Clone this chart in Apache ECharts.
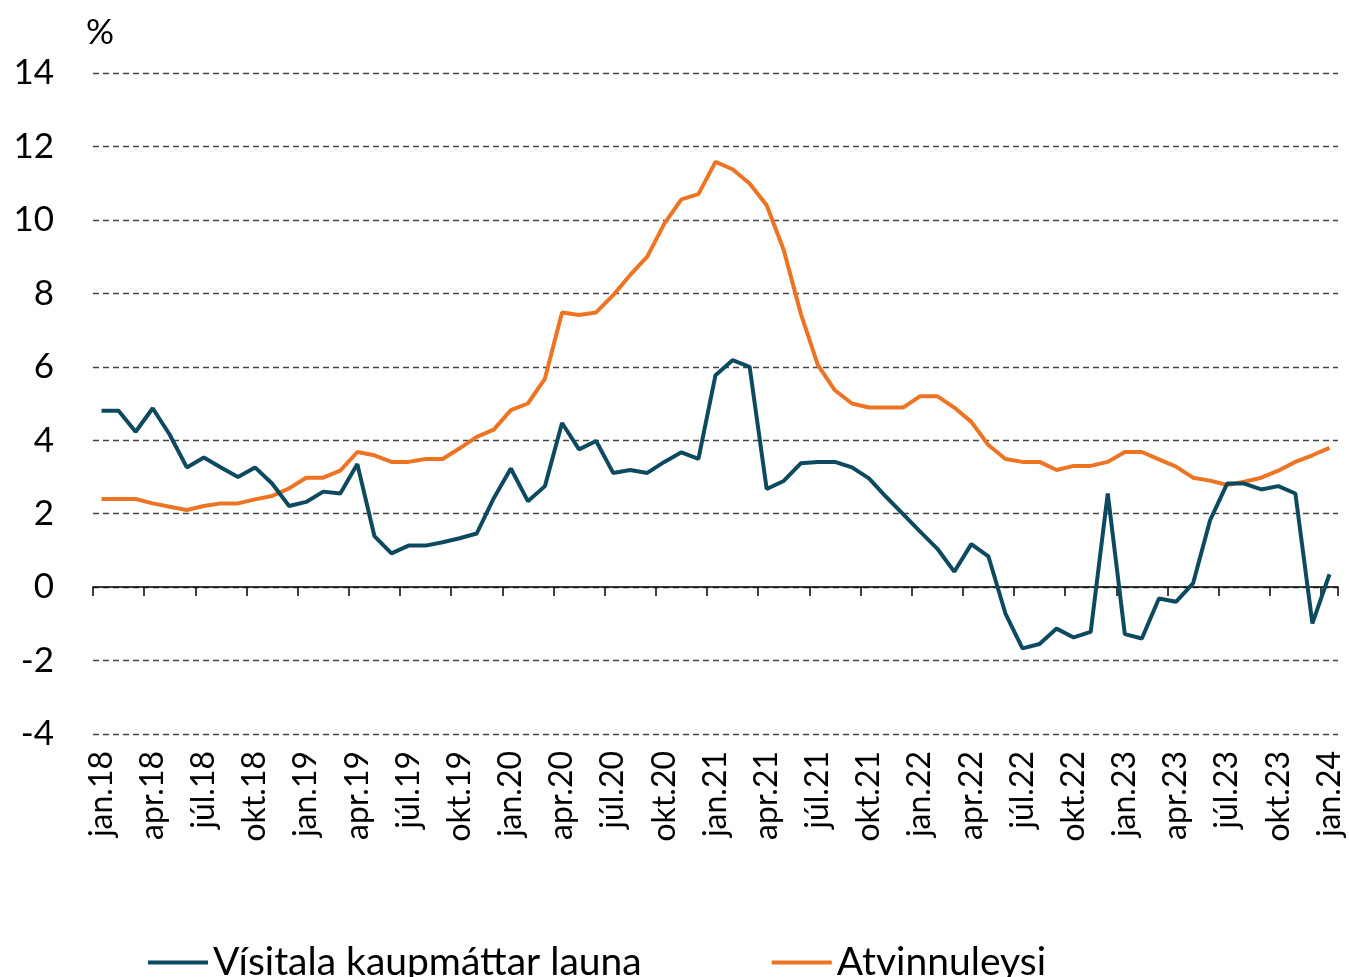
<!DOCTYPE html>
<html lang="is">
<head>
    <meta charset="UTF-8">
    <title>Kaupmáttur og atvinnuleysi</title>
    <style>
        html, body { margin: 0; padding: 0; background: #fff; }
        #main { width: 1349px; height: 977px; }
    </style>
    <script src="https://cdn.jsdelivr.net/npm/echarts@6/dist/echarts.min.js"></script>
</head>
<body>
<div id="main"></div>
<script>
// mánuðir jan.18 - jan.24
var categories = [
    'jan.18','feb.18','mar.18','apr.18','maí.18','jún.18','júl.18','ágú.18','sep.18','okt.18','nóv.18','des.18',
    'jan.19','feb.19','mar.19','apr.19','maí.19','jún.19','júl.19','ágú.19','sep.19','okt.19','nóv.19','des.19',
    'jan.20','feb.20','mar.20','apr.20','maí.20','jún.20','júl.20','ágú.20','sep.20','okt.20','nóv.20','des.20',
    'jan.21','feb.21','mar.21','apr.21','maí.21','jún.21','júl.21','ágú.21','sep.21','okt.21','nóv.21','des.21',
    'jan.22','feb.22','mar.22','apr.22','maí.22','jún.22','júl.22','ágú.22','sep.22','okt.22','nóv.22','des.22',
    'jan.23','feb.23','mar.23','apr.23','maí.23','jún.23','júl.23','ágú.23','sep.23','okt.23','nóv.23','des.23',
    'jan.24'
];

var kaupmattur = [
    4.80, 4.80, 4.23, 4.87, 4.15, 3.26, 3.53, 3.26, 3.00, 3.26, 2.82, 2.21,
    2.32, 2.60, 2.55, 3.35, 1.39, 0.92, 1.13, 1.13, 1.22, 1.33, 1.46, 2.42,
    3.23, 2.34, 2.75, 4.47, 3.75, 3.98, 3.11, 3.19, 3.11, 3.41, 3.67, 3.49,
    5.77, 6.18, 6.00, 2.67, 2.89, 3.37, 3.41, 3.41, 3.26, 2.96, 2.46, 1.99,
    1.51, 1.05, 0.42, 1.17, 0.84, -0.72, -1.67, -1.55, -1.13, -1.37, -1.22, 2.55,
    -1.28, -1.40, -0.31, -0.40, 0.10, 1.82, 2.82, 2.82, 2.66, 2.75, 2.55, -0.99,
    0.35
];

var atvinnuleysi = [
    2.40, 2.40, 2.40, 2.28, 2.19, 2.10, 2.21, 2.28, 2.28, 2.39, 2.48, 2.69,
    2.98, 2.98, 3.17, 3.68, 3.59, 3.41, 3.41, 3.49, 3.49, 3.78, 4.09, 4.29,
    4.82, 5.00, 5.68, 7.48, 7.41, 7.48, 7.95, 8.50, 9.00, 9.90, 10.56, 10.70,
    11.58, 11.38, 10.99, 10.40, 9.18, 7.45, 6.05, 5.36, 5.00, 4.89, 4.89, 4.89,
    5.20, 5.20, 4.89, 4.50, 3.87, 3.49, 3.41, 3.41, 3.19, 3.30, 3.30, 3.41,
    3.68, 3.68, 3.48, 3.28, 2.98, 2.90, 2.78, 2.87, 2.98, 3.17, 3.41, 3.59,
    3.79
];

var seriesNames = ['Vísitala kaupmáttar launa', 'Atvinnuleysi'];
var seriesColors = ['#0d4a60', '#ed7423'];

var FONT = 'Lato';

var chart = echarts.init(document.getElementById('main'), null, { renderer: 'canvas' });

var option = {
    animation: false,
    backgroundColor: '#ffffff',
    textStyle: { fontFamily: FONT, color: '#000' },
    title: {
        text: '%',
        left: 81,
        top: 10,
        textStyle: { fontFamily: FONT, fontSize: 35, fontWeight: 'normal', color: '#000' }
    },
    grid: { left: 93, right: 11, top: 73, bottom: 243, containLabel: false },
    legend: {
        data: seriesNames,
        left: 143,
        top: 938,
        itemWidth: 60,
        itemHeight: 4,
        itemGap: 130,
        icon: 'rect',
        textStyle: { fontFamily: FONT, fontSize: 39, color: '#000' }
    },
    xAxis: [
        {
            // núlllína með merkjum
            type: 'category',
            data: categories,
            boundaryGap: true,
            axisLine: { onZero: true, lineStyle: { color: '#000', width: 1.5 } },
            axisTick: { show: true, interval: 2, length: 9, inside: false, lineStyle: { color: '#000', width: 1.5 } },
            axisLabel: { show: false },
            splitLine: { show: false }
        },
        {
            // mánaðarheiti neðst
            type: 'category',
            data: categories,
            position: 'bottom',
            boundaryGap: true,
            axisLine: { show: false, onZero: false },
            axisTick: { show: false },
            axisLabel: {
                interval: 2,
                rotate: 90,
                margin: 17,
                fontFamily: FONT,
                fontSize: 32,
                color: '#000'
            },
            splitLine: { show: false }
        }
    ],
    yAxis: {
        type: 'value',
        min: -4,
        max: 14,
        interval: 2,
        axisLine: { show: false },
        axisTick: { show: false },
        axisLabel: { margin: 39, fontFamily: FONT, fontSize: 35, color: '#000' },
        splitLine: { show: true, lineStyle: { color: '#444', width: 1.3, type: [6, 4] } }
    },
    series: [
        {
            name: seriesNames[0],
            type: 'line',
            xAxisIndex: 0,
            data: kaupmattur,
            symbol: 'none',
            lineStyle: { color: seriesColors[0], width: 4 },
            itemStyle: { color: seriesColors[0] },
            z: 3
        },
        {
            name: seriesNames[1],
            type: 'line',
            xAxisIndex: 0,
            data: atvinnuleysi,
            symbol: 'none',
            lineStyle: { color: seriesColors[1], width: 4 },
            itemStyle: { color: seriesColors[1] },
            z: 2
        }
    ]
};

chart.setOption(option);
</script>
</body>
</html>
